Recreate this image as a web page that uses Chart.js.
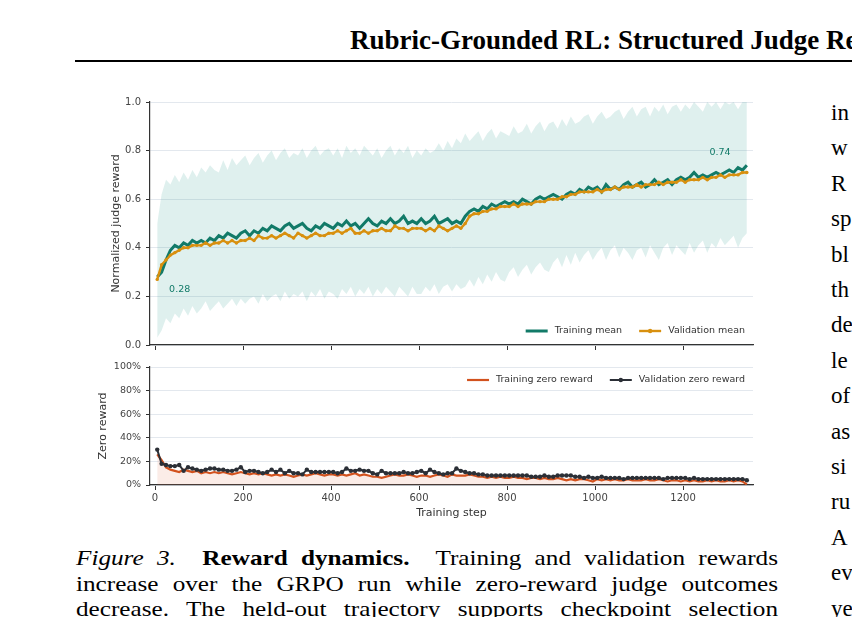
<!DOCTYPE html>
<html>
<head>
<meta charset="utf-8">
<script src="https://cdn.jsdelivr.net/npm/chart.js@4.4.0/dist/chart.umd.min.js"></script>
<style>
html, body { margin: 0; padding: 0; background: #fff; width: 852px; height: 617px; overflow: hidden; position: relative; }
.hdr { position: absolute; left: 350px; top: 25px; font: bold 27px "Liberation Serif", serif; white-space: nowrap; color: #000; }
.rule { position: absolute; left: 75px; top: 60px; width: 800px; height: 2px; background: #000; }
canvas { position: absolute; }
.col { position: absolute; left: 831px; top: 95px; font: 23px "Liberation Serif", serif; line-height: 35.4px; white-space: nowrap; color: #000; }
.cap { position: absolute; left: 76px; top: 546px; width: 585px; font: 21px "Liberation Serif", serif; line-height: 25.6px; color: #000;
       transform: scaleX(1.2); transform-origin: 0 0; }
.cap div { text-align: justify; text-align-last: justify; }
</style>
</head>
<body>
<div class="hdr">Rubric-Grounded RL: Structured Judge Rewards</div>
<div class="rule"></div>
<canvas id="top" width="665" height="262" style="left:95px;top:90px"></canvas>
<canvas id="bottom" width="665" height="165" style="left:95px;top:357px"></canvas>
<div class="col">in<br>w<br>R<br>sp<br>bl<br>th<br>de<br>le<br>of<br>as<br>si<br>ru<br>A<br>ev<br>ye</div>
<div class="cap">
  <div><i>Figure 3.</i>&nbsp; <b>Reward dynamics.</b>&nbsp; Training and validation rewards</div>
  <div>increase over the GRPO run while zero-reward judge outcomes</div>
  <div>decrease. The held-out trajectory supports checkpoint selection</div>
</div>
<script>
// training steps (x)
const steps = [
  5, 15, 25, 35, 45, 55, 65, 75, 85, 95,
  105, 115, 125, 135, 145, 155, 165, 175, 185, 195,
  205, 215, 225, 235, 245, 255, 265, 275, 285, 295,
  305, 315, 325, 335, 345, 355, 365, 375, 385, 395,
  405, 415, 425, 435, 445, 455, 465, 475, 485, 495,
  505, 515, 525, 535, 545, 555, 565, 575, 585, 595,
  605, 615, 625, 635, 645, 655, 665, 675, 685, 695,
  705, 715, 725, 735, 745, 755, 765, 775, 785, 795,
  805, 815, 825, 835, 845, 855, 865, 875, 885, 895,
  905, 915, 925, 935, 945, 955, 965, 975, 985, 995,
  1005, 1015, 1025, 1035, 1045, 1055, 1065, 1075, 1085, 1095,
  1105, 1115, 1125, 1135, 1145, 1155, 1165, 1175, 1185, 1195,
  1205, 1215, 1225, 1235, 1245, 1255, 1265, 1275, 1285, 1295,
  1305, 1315, 1325, 1335, 1345
];
const xTicks = [0, 200, 400, 600, 800, 1000, 1200];
const rewardTicks = [0, 0.2, 0.4, 0.6, 0.8, 1.0];
const zeroTicks = [0, 20, 40, 60, 80, 100];

const trainMean = [
  0.28, 0.30, 0.35, 0.39, 0.41, 0.40, 0.42, 0.41, 0.43, 0.42,
  0.43, 0.42, 0.44, 0.43, 0.45, 0.44, 0.46, 0.45, 0.44, 0.46,
  0.47, 0.45, 0.47, 0.46, 0.48, 0.47, 0.49, 0.48, 0.47, 0.49,
  0.50, 0.48, 0.49, 0.50, 0.48, 0.47, 0.49, 0.48, 0.50, 0.49,
  0.48, 0.50, 0.49, 0.51, 0.49, 0.50, 0.48, 0.50, 0.52, 0.50,
  0.49, 0.51, 0.50, 0.52, 0.50, 0.51, 0.53, 0.50, 0.51, 0.50,
  0.52, 0.50, 0.51, 0.53, 0.50, 0.51, 0.52, 0.50, 0.51, 0.50,
  0.53, 0.55, 0.56, 0.55, 0.57, 0.56, 0.58, 0.57, 0.58, 0.59,
  0.58, 0.59, 0.58, 0.60, 0.59, 0.58, 0.60, 0.61, 0.60, 0.61,
  0.62, 0.61, 0.60, 0.62, 0.63, 0.62, 0.64, 0.63, 0.65, 0.64,
  0.65, 0.63, 0.66, 0.64, 0.65, 0.64, 0.66, 0.67, 0.65, 0.66,
  0.67, 0.65, 0.66, 0.68, 0.66, 0.67, 0.68, 0.66, 0.68, 0.69,
  0.68, 0.69, 0.71, 0.69, 0.70, 0.69, 0.70, 0.71, 0.70, 0.71,
  0.72, 0.71, 0.73, 0.72, 0.74
];

const valMean = [
  0.27, 0.33, 0.35, 0.37, 0.38, 0.39, 0.40, 0.40, 0.41, 0.41,
  0.41, 0.42, 0.41, 0.42, 0.42, 0.43, 0.42, 0.43, 0.42, 0.43,
  0.43, 0.44, 0.43, 0.45, 0.44, 0.44, 0.45, 0.44, 0.45, 0.46,
  0.45, 0.44, 0.46, 0.45, 0.44, 0.45, 0.46, 0.45, 0.45, 0.46,
  0.46, 0.47, 0.46, 0.47, 0.48, 0.46, 0.46, 0.47, 0.46, 0.47,
  0.47, 0.48, 0.47, 0.47, 0.49, 0.48, 0.48, 0.47, 0.48, 0.48,
  0.48, 0.47, 0.48, 0.47, 0.49, 0.48, 0.47, 0.48, 0.49, 0.48,
  0.50, 0.53, 0.54, 0.54, 0.55, 0.55, 0.56, 0.56, 0.57, 0.57,
  0.57, 0.58, 0.57, 0.58, 0.58, 0.58, 0.59, 0.59, 0.59, 0.60,
  0.60, 0.60, 0.61, 0.61, 0.62, 0.62, 0.63, 0.63, 0.63, 0.63,
  0.64, 0.63, 0.64, 0.64, 0.65, 0.64, 0.65, 0.65, 0.65, 0.66,
  0.65, 0.66, 0.66, 0.66, 0.67, 0.66, 0.67, 0.67, 0.67, 0.68,
  0.67, 0.68, 0.68, 0.68, 0.69, 0.68, 0.69, 0.69, 0.70, 0.69,
  0.70, 0.70, 0.70, 0.71, 0.71
];

// spread of training rewards (shaded band)
const bandHi = [
  0.50, 0.62, 0.68, 0.66, 0.70, 0.67, 0.71, 0.68, 0.72, 0.69,
  0.73, 0.71, 0.74, 0.72, 0.71, 0.76, 0.72, 0.77, 0.74, 0.76,
  0.78, 0.74, 0.77, 0.79, 0.75, 0.78, 0.80, 0.76, 0.79, 0.81,
  0.77, 0.79, 0.78, 0.81, 0.77, 0.80, 0.82, 0.78, 0.80, 0.81,
  0.78, 0.81, 0.77, 0.82, 0.79, 0.81, 0.78, 0.82, 0.80, 0.78,
  0.81, 0.77, 0.80, 0.82, 0.78, 0.81, 0.79, 0.82, 0.77, 0.80,
  0.78, 0.81, 0.79, 0.80, 0.83, 0.80, 0.84, 0.81, 0.85, 0.83,
  0.87, 0.84, 0.86, 0.88, 0.84, 0.87, 0.89, 0.85, 0.88, 0.87,
  0.86, 0.90, 0.87, 0.88, 0.91, 0.87, 0.90, 0.92, 0.88, 0.91,
  0.92, 0.89, 0.93, 0.90, 0.94, 0.91, 0.92, 0.94, 0.95, 0.91,
  0.94, 0.96, 0.93, 0.94, 0.96, 0.97, 0.93, 0.96, 0.98, 0.94,
  0.97, 0.98, 0.94, 0.98, 0.96, 0.99, 0.95, 0.98, 0.99, 0.96,
  0.99, 0.97, 1.00, 0.98, 0.96, 1.00, 0.98, 1.00, 0.97, 1.00,
  0.99, 1.00, 0.97, 1.00, 1.00
];

const bandLo = [
  0.03, 0.06, 0.11, 0.09, 0.13, 0.11, 0.15, 0.12, 0.16, 0.13,
  0.15, 0.18, 0.14, 0.16, 0.18, 0.15, 0.17, 0.19, 0.16, 0.19,
  0.17, 0.19, 0.20, 0.17, 0.21, 0.18, 0.20, 0.21, 0.18, 0.22,
  0.19, 0.21, 0.20, 0.22, 0.18, 0.22, 0.20, 0.23, 0.19, 0.22,
  0.21, 0.19, 0.23, 0.21, 0.24, 0.20, 0.23, 0.21, 0.24, 0.20,
  0.23, 0.21, 0.24, 0.22, 0.20, 0.24, 0.22, 0.20, 0.24, 0.21,
  0.21, 0.24, 0.22, 0.25, 0.21, 0.24, 0.25, 0.22, 0.25, 0.23,
  0.24, 0.27, 0.24, 0.28, 0.25, 0.29, 0.26, 0.30, 0.27, 0.26,
  0.30, 0.32, 0.28, 0.31, 0.33, 0.29, 0.32, 0.34, 0.31, 0.30,
  0.34, 0.36, 0.32, 0.37, 0.33, 0.38, 0.34, 0.37, 0.39, 0.35,
  0.38, 0.40, 0.35, 0.39, 0.41, 0.36, 0.40, 0.38, 0.35, 0.39,
  0.40, 0.36, 0.41, 0.38, 0.35, 0.40, 0.42, 0.37, 0.41, 0.39,
  0.37, 0.42, 0.38, 0.41, 0.43, 0.38, 0.42, 0.40, 0.44, 0.41,
  0.43, 0.45, 0.40, 0.44, 0.46
];

// zero-reward share, percent
const trainZero = [
  26, 21, 15, 13, 12, 11, 13, 12, 11, 12,
  10, 11, 10, 11, 10, 11, 10, 9, 10, 11,
  10, 9, 10, 9, 10, 9, 8, 9, 8, 9,
  8, 7, 8, 9, 8, 9, 10, 9, 8, 9,
  9, 8, 9, 8, 9, 10, 8, 9, 8, 7,
  7, 6, 7, 8, 9, 8, 8, 9, 8, 7,
  8, 8, 7, 8, 9, 8, 7, 9, 8, 8,
  8, 9, 8, 7, 7, 6, 7, 6, 7, 6,
  6, 7, 6, 6, 5, 6, 6, 5, 6, 5,
  5, 6, 5, 4, 5, 4, 5, 5, 4, 3,
  5, 4, 5, 4, 5, 4, 4, 5, 4, 4,
  4, 5, 4, 4, 5, 4, 3, 4, 4, 3,
  4, 3, 4, 3, 3, 4, 3, 4, 3, 3,
  4, 3, 4, 3, 0.5
];

const valZero = [
  30, 18, 17, 16, 16, 17, 12, 15, 14, 13,
  12, 13, 14, 14, 13, 13, 12, 12, 13, 15,
  11, 12, 12, 11, 10, 11, 13, 11, 13, 10,
  12, 10, 10, 9, 13, 11, 11, 11, 11, 11,
  11, 10, 11, 14, 12, 12, 13, 12, 12, 10,
  9, 12, 10, 10, 10, 10, 11, 10, 10, 11,
  12, 10, 13, 11, 10, 9, 10, 10, 14, 12,
  11, 10, 10, 9, 9, 8, 8, 8, 8, 8,
  8, 8, 8, 8, 8, 7, 7, 7, 8, 7,
  7, 8, 8, 8, 8, 7, 7, 6, 7, 6,
  6, 7, 6, 6, 6, 6, 5, 6, 6, 6,
  6, 6, 6, 6, 6, 5, 6, 6, 6, 6,
  6, 5, 6, 5, 5, 5, 5, 5, 5, 5,
  5, 5, 5, 5, 4
];

const TEAL = '#127a68';
const GOLD = '#d8900f';
const RUST = '#d2521e';
const INK = '#2b2f36';
const FAM = '"DejaVu Sans", sans-serif';

function pts(vals) {
  return vals.map((v, i) => ({ x: steps[i], y: v }));
}

function fixedTicks(list) {
  return s => { s.ticks = list.map(v => ({ value: v })); };
}

// draws a legend row aligned to the right edge of the plot
function drawLegend(ctx, items, right, y) {
  ctx.font = '9.5px ' + FAM;
  ctx.textBaseline = 'middle';
  ctx.textAlign = 'left';
  let widths = items.map(it => ctx.measureText(it.text).width);
  let total = 0;
  for (let i = 0; i < items.length; i++) {
    total += 22 + 7 + widths[i];
    if (i < items.length - 1) total += 17;
  }
  let x = right - 8 - total;
  for (let i = 0; i < items.length; i++) {
    let it = items[i];
    ctx.strokeStyle = it.color;
    ctx.lineWidth = it.width;
    ctx.beginPath();
    ctx.moveTo(x, y);
    ctx.lineTo(x + 22, y);
    ctx.stroke();
    if (it.dot) {
      ctx.fillStyle = it.color;
      ctx.beginPath();
      ctx.arc(x + 11, y, 2.2, 0, Math.PI * 2);
      ctx.fill();
    }
    ctx.fillStyle = '#333';
    ctx.fillText(it.text, x + 29, y);
    x += 29 + widths[i] + 17;
  }
}

const topDeco = {
  id: 'topDeco',
  afterDraw(chart) {
    const ctx = chart.ctx;
    const x = chart.scales.x, y = chart.scales.y, a = chart.chartArea;
    ctx.save();
    ctx.font = '9.5px ' + FAM;
    ctx.fillStyle = TEAL;
    ctx.textBaseline = 'middle';
    ctx.textAlign = 'left';
    ctx.fillText('0.28', x.getPixelForValue(32), y.getPixelForValue(0.23));
    ctx.textAlign = 'center';
    ctx.fillText('0.74', x.getPixelForValue(1284), y.getPixelForValue(0.79));
    drawLegend(ctx, [
      { text: 'Training mean', color: TEAL, width: 3 },
      { text: 'Validation mean', color: GOLD, width: 2.4, dot: true }
    ], a.right, a.bottom - 14);
    ctx.restore();
  }
};

const bottomDeco = {
  id: 'bottomDeco',
  afterDraw(chart) {
    const ctx = chart.ctx, a = chart.chartArea;
    ctx.save();
    drawLegend(ctx, [
      { text: 'Training zero reward', color: RUST, width: 2.2 },
      { text: 'Validation zero reward', color: INK, width: 2, dot: true }
    ], a.right, a.top + 13);
    ctx.restore();
  }
};

function noPad(s) {
  s.paddingTop = 0; s.paddingBottom = 0; s.paddingLeft = 0; s.paddingRight = 0;
}

const xCommon = {
  type: 'linear',
  min: -11.4,
  max: 1359,
  afterBuildTicks: fixedTicks(xTicks),
  ticks: { callback: v => String(v), font: { family: FAM, size: 10 }, color: '#444', padding: 2 },
  grid: { drawOnChartArea: false, drawTicks: true, tickLength: 5, tickColor: '#333' },
  border: { color: '#333', width: 1.2 }
};

// Reward panel
new Chart(document.getElementById('top'), {
  type: 'line',
  data: {
    datasets: [
      { label: 'Validation mean', data: pts(valMean), borderColor: GOLD, backgroundColor: GOLD,
        borderWidth: 2.4, pointRadius: 1.7, pointBorderWidth: 0, fill: false },
      { label: 'Training mean', data: pts(trainMean), borderColor: TEAL,
        borderWidth: 3, pointRadius: 0, fill: false },
      { label: 'lo', data: pts(bandLo), borderWidth: 0, pointRadius: 0, fill: false },
      { label: 'hi', data: pts(bandHi), borderWidth: 0, pointRadius: 0, fill: '-1',
        backgroundColor: 'rgba(30,150,132,0.14)' }
    ]
  },
  options: {
    responsive: false,
    animation: false,
    layout: { padding: { top: 12, right: 7, left: 0, bottom: 0 } },
    plugins: { legend: { display: false }, tooltip: { enabled: false } },
    scales: {
      x: Object.assign({}, xCommon, {
        ticks: Object.assign({}, xCommon.ticks, { display: false }),
        afterFit: s => { s.height = 7; noPad(s); }
      }),
      y: {
        min: 0, max: 1,
        afterBuildTicks: fixedTicks(rewardTicks),
        ticks: { callback: v => v.toFixed(1), font: { family: FAM, size: 10 }, color: '#444', padding: 5 },
        grid: { color: '#e3e8ee', tickLength: 4, tickColor: '#333' },
        border: { color: '#333', width: 1.2 },
        title: { display: true, text: 'Normalized judge reward', font: { family: FAM, size: 11 }, color: '#333', padding: { top: 15, bottom: 0 } },
        afterFit: s => { s.width = 55; noPad(s); }
      }
    }
  },
  plugins: [topDeco]
});

// Zero-reward panel
new Chart(document.getElementById('bottom'), {
  type: 'line',
  data: {
    datasets: [
      { label: 'Validation zero reward', data: pts(valZero), borderColor: INK, backgroundColor: INK,
        borderWidth: 2, pointRadius: 2.2, pointBorderWidth: 0, fill: false },
      { label: 'Training zero reward', data: pts(trainZero), borderColor: RUST,
        borderWidth: 2.2, pointRadius: 0, fill: 'origin', backgroundColor: 'rgba(226,110,70,0.13)' }
    ]
  },
  options: {
    responsive: false,
    animation: false,
    layout: { padding: { top: 10, right: 7, left: 0, bottom: 0 } },
    plugins: { legend: { display: false }, tooltip: { enabled: false } },
    scales: {
      x: Object.assign({}, xCommon, {
        title: { display: true, text: 'Training step', font: { family: FAM, size: 11 }, color: '#333', padding: { top: 0, bottom: 2 } },
        afterFit: s => { s.height = 37; noPad(s); }
      }),
      y: {
        min: 0, max: 100,
        afterBuildTicks: fixedTicks(zeroTicks),
        ticks: { callback: v => v + '%', font: { family: FAM, size: 9.5 }, color: '#444', padding: 5 },
        grid: { color: '#e3e8ee', tickLength: 4, tickColor: '#333' },
        border: { color: '#333', width: 1.2 },
        title: { display: true, text: 'Zero reward', font: { family: FAM, size: 11 }, color: '#333', padding: { top: 2, bottom: 0 } },
        afterFit: s => { s.width = 55; noPad(s); }
      }
    }
  },
  plugins: [bottomDeco]
});
</script>
</body>
</html>
